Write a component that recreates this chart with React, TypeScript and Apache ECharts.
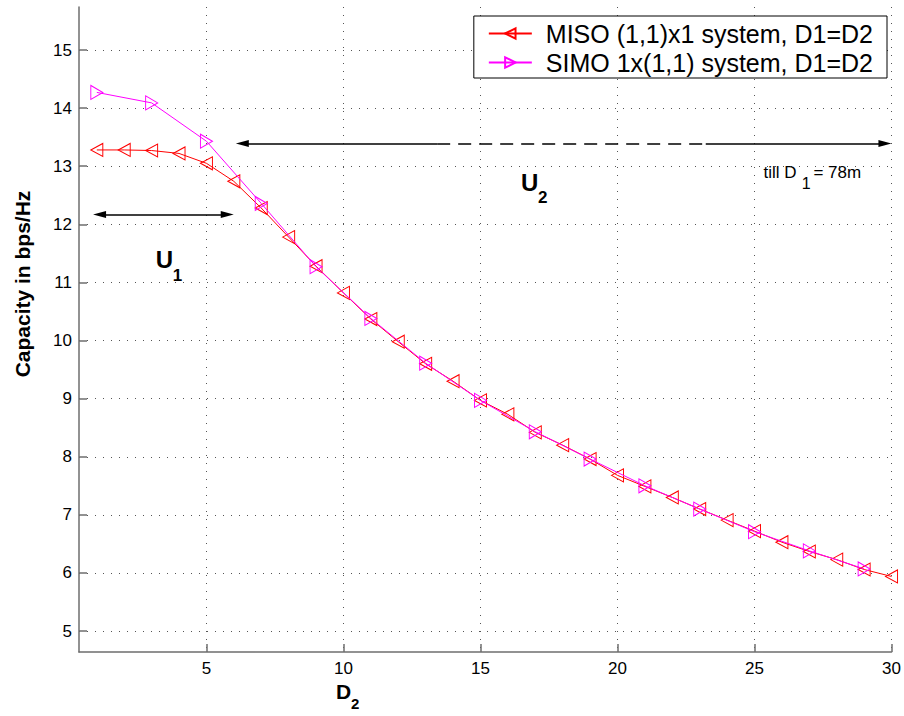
import React, { useEffect, useRef } from "react";
import * as echarts from "echarts";

const misoX = [1, 2, 3, 4, 5, 6, 7, 8, 9, 10, 11, 12, 13, 14, 15, 16, 17, 18, 19, 20, 21, 22, 23, 24, 25, 26, 27, 28, 29, 30];
const misoY = [13.28, 13.28, 13.27, 13.22, 13.05, 12.74, 12.28, 11.78, 11.28, 10.82, 10.37, 9.98, 9.6, 9.3, 8.97, 8.73, 8.42, 8.2, 7.96, 7.68, 7.49, 7.3, 7.1, 6.91, 6.72, 6.53, 6.37, 6.23, 6.06, 5.94];
const simoX = [1, 3, 5, 7, 9, 11, 13, 15, 17, 19, 21, 23, 25, 27, 29];
const simoY = [14.27, 14.09, 13.43, 12.36, 11.27, 10.38, 9.61, 8.97, 8.43, 7.96, 7.5, 7.1, 6.71, 6.38, 6.07];
const xTicks = [5, 10, 15, 20, 25, 30];
const yTicks = [5, 6, 7, 8, 9, 10, 11, 12, 13, 14, 15];
const seriesNames = ["MISO (1,1)x1 system, D1=D2", "SIMO 1x(1,1) system, D1=D2"];

const FONT = "'Liberation Sans', Arial, Helvetica, sans-serif";

export default function App() {
  const ref = useRef<HTMLDivElement>(null);
  useEffect(() => {
    if (!ref.current) return;
    const chart = echarts.init(ref.current, null, { renderer: "svg" });
    const axisColor = "#6e6e6e";
    const gridLine = { show: true, lineStyle: { color: "#555", type: [1, 7], width: 1 } };
    const arrowSize = [7, 13];
    const option: any = {
      animation: false,
      backgroundColor: "#fff",
      textStyle: { fontFamily: FONT },
      grid: { left: 79, top: 7, right: 11, bottom: 64 },
      xAxis: {
        type: "value",
        min: 0.35,
        max: 30,
        axisLine: { show: true, lineStyle: { color: axisColor, width: 1.5 } },
        axisTick: { show: true, inside: true, length: 8, customValues: xTicks, lineStyle: { color: axisColor, width: 1.5 } },
        axisLabel: { customValues: xTicks, color: "#000", fontSize: 17, margin: 8, fontFamily: FONT },
        splitLine: gridLine,
      },
      yAxis: {
        type: "value",
        min: 4.64,
        max: 15.74,
        axisLine: { show: true, lineStyle: { color: axisColor, width: 1.5 } },
        axisTick: { show: true, inside: true, length: 8, customValues: yTicks, lineStyle: { color: axisColor, width: 1.5 } },
        axisLabel: { customValues: yTicks, color: "#000", fontSize: 17, margin: 7, fontFamily: FONT },
        splitLine: gridLine,
      },
      legend: {
        orient: "vertical",
        right: 17,
        top: 16,
        backgroundColor: "#fff",
        borderColor: "#000",
        borderWidth: 1,
        padding: [5, 14, 3, 14],
        itemGap: 4,
        itemWidth: 43,
        itemHeight: 13,
        textStyle: { fontSize: 25, color: "#000", fontFamily: FONT, padding: [0, 0, 0, 9] },
        data: seriesNames,
      },
      series: [
        {
          name: seriesNames[0],
          type: "line",
          data: misoX.map((x, i) => [x, misoY[i]]),
          symbol: "path://M0,5L10,0L10,10Z",
          symbolSize: [12, 13],
          showAllSymbol: true,
          lineStyle: { color: "#ff0000", width: 1 },
          itemStyle: { color: "rgba(0,0,0,0)", borderColor: "#ff0000", borderWidth: 1 },
          z: 3,
          markLine: {
            silent: true,
            animation: false,
            label: { show: false },
            lineStyle: { color: "#000", width: 1.5, type: "solid" },
            symbolSize: arrowSize,
            data: [
              [
                { coord: [1.1, 12.17], symbol: "triangle" },
                { coord: [5.76, 12.17], symbol: "triangle" },
              ],
              [
                { coord: [6.31, 13.39], symbol: "triangle" },
                { coord: [13.42, 13.39], symbol: "none" },
              ],
              [
                { coord: [13.42, 13.39], symbol: "none", lineStyle: { type: [13, 8] } },
                { coord: [23.22, 13.39], symbol: "none" },
              ],
              [
                { coord: [23.22, 13.39], symbol: "none" },
                { coord: [29.76, 13.39], symbol: "triangle" },
              ],
            ],
          },
        },
        {
          name: seriesNames[1],
          type: "line",
          data: simoX.map((x, i) => [x, simoY[i]]),
          symbol: "path://M10,5L0,0L0,10Z",
          symbolSize: [12, 14],
          showAllSymbol: true,
          lineStyle: { color: "#ff00ff", width: 1 },
          itemStyle: { color: "rgba(0,0,0,0)", borderColor: "#ff00ff", borderWidth: 1 },
          z: 4,
        },
      ],
    };
    chart.setOption(option);

    const p = (x: number, y: number) => chart.convertToPixel({ gridIndex: 0 }, [x, y]) as number[];
    const txt = (pos: number[], text: string, size: number, bold: boolean, extra: any = {}) => ({
      type: "text",
      x: pos[0],
      y: pos[1],
      silent: true,
      style: {
        text,
        fill: "#000",
        font: `${bold ? "bold " : ""}${size}px ${FONT}`,
        textAlign: "left",
        textVerticalAlign: "middle",
        ...extra,
      },
      z: 100,
    });
    const u1 = p(3.154, 11.392);
    const u1s = p(3.773, 11.125);
    const u2 = p(16.48, 12.727);
    const u2s = p(17.1, 12.46);
    const t1 = p(25.33, 12.9);
    const t1s = p(26.72, 12.71);
    const t2 = p(27.15, 12.9);
    chart.setOption({
      graphic: [
        txt(u1, "U", 24, true),
        txt(u1s, "1", 17, true),
        txt(u2, "U", 24, true),
        txt(u2s, "2", 17, true),
        txt(t1, "till D", 17, false),
        txt(t1s, "1", 16, false),
        txt(t2, "= 78m", 17, false),
        txt([336, 691], "D", 21, true),
        txt([351, 703], "2", 15, true),
        {
          type: "text",
          x: 22,
          y: 284,
          rotation: Math.PI / 2,
          silent: true,
          style: {
            text: "Capacity in bps/Hz",
            fill: "#000",
            font: `bold 21px ${FONT}`,
            textAlign: "center",
            textVerticalAlign: "middle",
          },
        },
      ],
    });
    return () => chart.dispose();
  }, []);
  return <div ref={ref} style={{ position: "fixed", left: 0, top: 0, width: 904, height: 716 }} />;
}
